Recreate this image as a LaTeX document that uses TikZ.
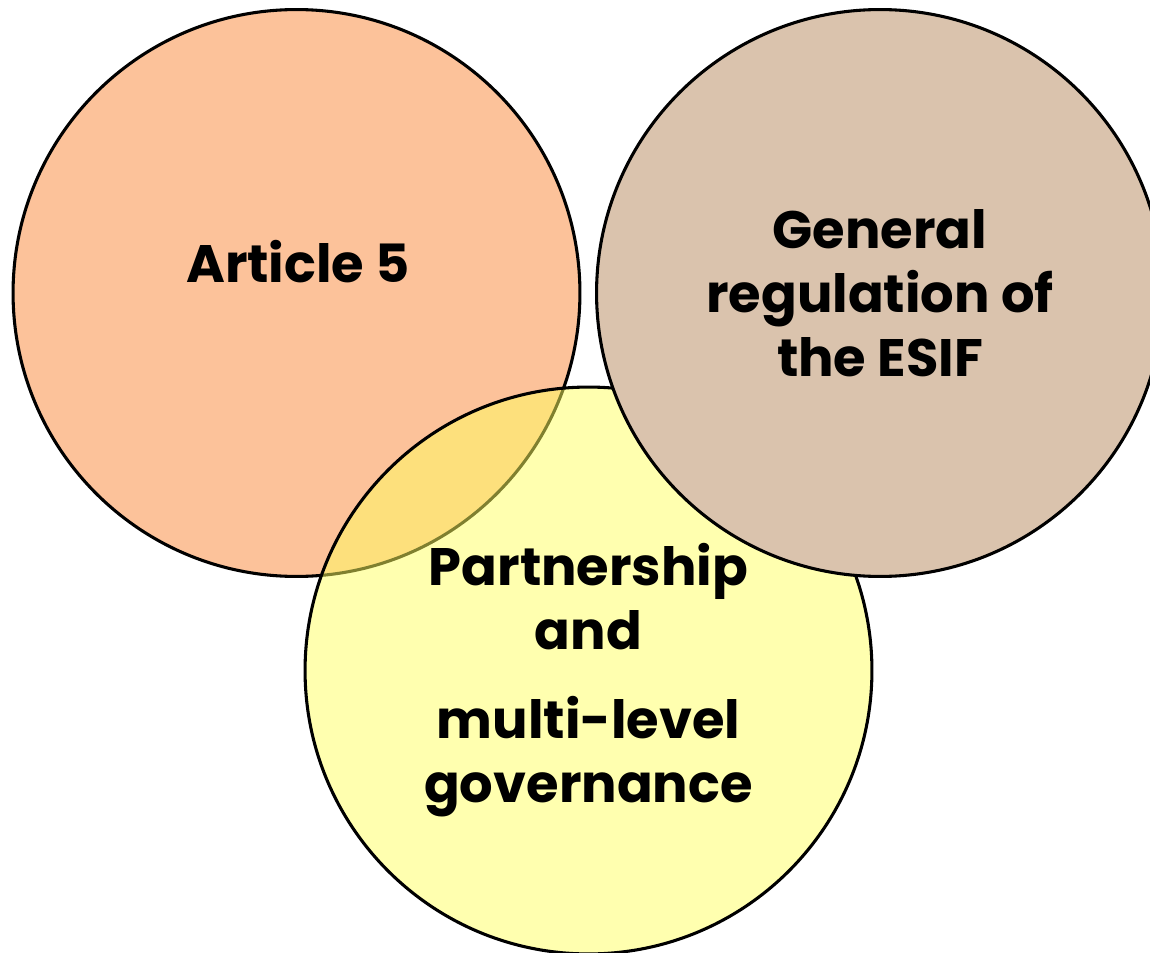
\documentclass[tikz,border=0pt]{standalone}
\usepackage{fontspec}
\setmainfont{Poppins}
\definecolor{artfill}{RGB}{252,194,154}
\definecolor{regfill}{RGB}{218,195,173}
\definecolor{partfill}{RGB}{255,255,95}
\tikzset{
  bubble/.style={circle, draw=black, line width=1.75pt, minimum size=11.34cm, inner sep=0pt},
  label text/.style={font=\bfseries\fontsize{30}{36.5}\selectfont, align=center, inner sep=0pt}
}
\begin{document}
\begin{tikzpicture}[x=0.02cm, y=-0.02cm]
            \useasboundingbox (0,0) rectangle (1150,953);
                % the three circles
                \node [bubble, fill=artfill] (article) at (296.5,293) {};
                \node [bubble, fill=partfill, fill opacity=0.5] (partner) at (588.5,670.5) {};
                \node [bubble, fill=regfill] (general) at (880,293) {};
                % their texts
                \node [label text] (articletext) at (298,262) {Article 5};
                \node [label text] (generaltext) at (880,293) {General\\regulation of\\the ESIF};
                \node [label text] (partnertext) at (588.5,680) {Partnership\\and\\[0.5cm] multi-level\\governance};
            \end{tikzpicture}
\end{document}
